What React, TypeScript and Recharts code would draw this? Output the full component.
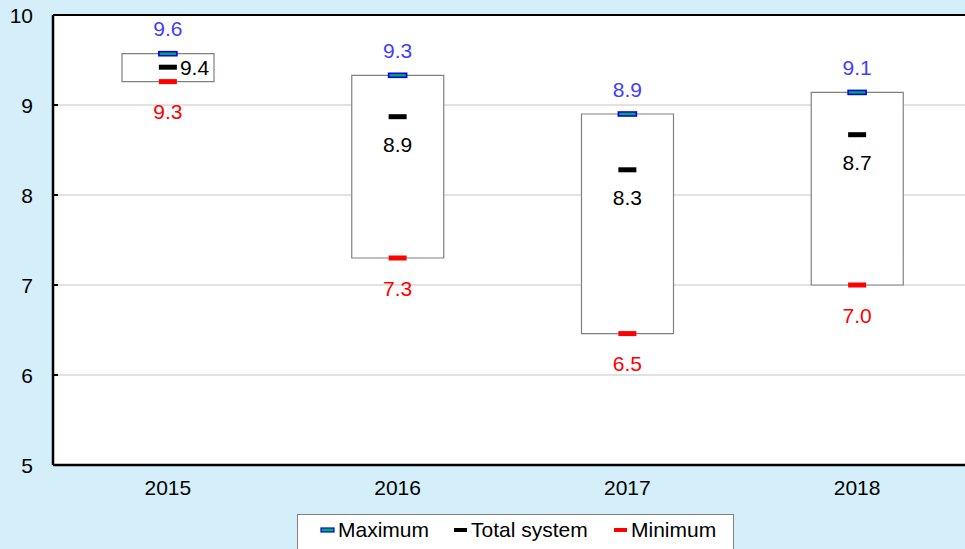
import React from 'react';
import { ComposedChart, Bar, Line, XAxis, YAxis, CartesianGrid, ReferenceLine, LabelList } from 'recharts';

const years = ['2015', '2016', '2017', '2018'];
const maximum = [9.57, 9.33, 8.9, 9.14];
const totalSystem = [9.42, 8.87, 8.28, 8.67];
const minimum = [9.26, 7.3, 6.46, 7.0];
const yTicks = [5, 6, 7, 8, 9, 10];

const data = years.map((year, i) => ({
  year,
  max: maximum[i],
  total: totalSystem[i],
  min: minimum[i],
  range: [minimum[i], maximum[i]],
}));

const FONT = '"Liberation Sans", Arial, sans-serif';
const BG = '#d4eefa';
const FS = 21;

const MaxDot = (props: any) => {
  const { cx, cy } = props;
  if (cx == null || cy == null) return null;
  return <rect x={cx - 9} y={cy - 2} width={18} height={4} fill="#00b050" stroke="#0000ff" strokeWidth={1.6} />;
};
const TotalDot = (props: any) => {
  const { cx, cy } = props;
  if (cx == null || cy == null) return null;
  return <rect x={cx - 9} y={cy - 2.5} width={18} height={5} fill="#000" />;
};
const MinDot = (props: any) => {
  const { cx, cy } = props;
  if (cx == null || cy == null) return null;
  return <rect x={cx - 9} y={cy - 2.5} width={18} height={5} fill="#ff0000" />;
};

const makeLabel = (color: string, dy: number, sideFirst = false) => (props: any) => {
  const { x, y, value, index } = props;
  const fmt = Number(value).toFixed(1);
  if (sideFirst && index === 0) {
    return (
      <text x={x + 12} y={y} fill={color} fontSize={FS} fontFamily={FONT} dominantBaseline="central">
        {fmt}
      </text>
    );
  }
  return (
    <text x={x} y={y + dy} fill={color} fontSize={FS} fontFamily={FONT} textAnchor="middle" dominantBaseline="central">
      {fmt}
    </text>
  );
};

const YTick = (props: any) => {
  const { x, y, payload } = props;
  return (
    <g>
      <text x={x - 20} y={y} textAnchor="end" dominantBaseline="central" fontSize={FS} fontFamily={FONT} fill="#000">
        {payload.value}
      </text>
      <line x1={x} x2={x + 5} y1={y} y2={y} stroke="#000" strokeWidth={2} />
    </g>
  );
};

const legendItems = [
  { label: 'Maximum', fill: '#00b050', stroke: '#0000ff' },
  { label: 'Total system', fill: '#000', stroke: 'none' },
  { label: 'Minimum', fill: '#ff0000', stroke: 'none' },
];

export default function App() {
  return (
    <div style={{ position: 'absolute', left: 0, top: 0, width: 965, height: 549, overflow: 'hidden', background: BG, fontFamily: FONT }}>
      <ComposedChart width={980} height={549} data={data} margin={{ top: 15, right: 8, bottom: 44, left: 0 }}>
        <CartesianGrid vertical={false} stroke="#d9d9d9" strokeWidth={1.5} fill="#fff" />
        <XAxis
          dataKey="year"
          axisLine={{ stroke: '#000', strokeWidth: 2.5 }}
          tickLine={false}
          tickMargin={9}
          height={40}
          tick={{ fontSize: FS, fontFamily: FONT, fill: '#000' }}
        />
        <YAxis
          domain={[5, 10]}
          ticks={yTicks}
          width={53}
          axisLine={{ stroke: '#000', strokeWidth: 2.5 }}
          tickLine={false}
          tickSize={0}
          tickMargin={0}
          tick={<YTick />}
          allowDataOverflow
        />
        <ReferenceLine y={10} stroke="#000" strokeWidth={2} />
        <Bar dataKey="range" barSize={92} fill="#fff" stroke="#808080" strokeWidth={1.2} isAnimationActive={false} />
        <Line dataKey="min" stroke="none" dot={<MinDot />} activeDot={false} isAnimationActive={false}>
          <LabelList dataKey="min" content={makeLabel('#ff0000', 30)} />
        </Line>
        <Line dataKey="total" stroke="none" dot={<TotalDot />} activeDot={false} isAnimationActive={false}>
          <LabelList dataKey="total" content={makeLabel('#000', 28, true)} />
        </Line>
        <Line dataKey="max" stroke="none" dot={<MaxDot />} activeDot={false} isAnimationActive={false}>
          <LabelList dataKey="max" content={makeLabel('#3f3fff', -25)} />
        </Line>
      </ComposedChart>
      <div
        style={{
          position: 'absolute',
          left: 297,
          top: 514,
          width: 437,
          height: 40,
          background: '#fff',
          border: '1px solid #808080',
          boxSizing: 'border-box',
        }}
      >
        {legendItems.map((it, i) => (
          <div
            key={it.label}
            style={{ position: 'absolute', left: [22, 155, 315][i], top: 3, display: 'flex', alignItems: 'center', fontSize: FS, color: '#000', whiteSpace: 'nowrap' }}
          >
            <svg width={16} height={8} style={{ marginRight: 2 }}>
              <rect x={1} y={2} width={13} height={4} fill={it.fill} stroke={it.stroke} strokeWidth={1.2} />
            </svg>
            {it.label}
          </div>
        ))}
      </div>
    </div>
  );
}
